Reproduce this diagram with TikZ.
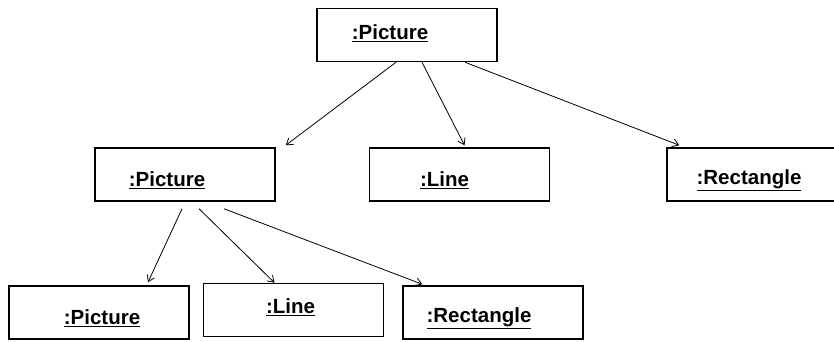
\documentclass[tikz,border=0pt]{standalone}
\usepackage{fontspec}
\setmainfont{Liberation Sans}
\usetikzlibrary{arrows.meta, positioning, calc}

\begin{document}
\begin{tikzpicture}[
        x=1pt, y=1pt,
        font=\fontsize{20.5}{24}\selectfont\bfseries,
        objbox/.style={draw, line width=1.5pt, minimum width=180pt, minimum height=53pt, inner sep=0pt},
        objname/.style={inner sep=0pt},
        link/.style={-{Straight Barb[length=6pt, width=8pt]}, line width=0.8pt}
    ]
        \clip (0,0) rectangle (834,-341);
        \fill[white] (0,0) rectangle (834,-341);

        % objects
        \node[objbox, label={[objname, xshift=-17pt, yshift=2pt]center:\underline{:Picture}}] (top) at (407,-35) {};
        \node[objbox, label={[objname, xshift=-18pt, yshift=-5.5pt]center:\underline{:Picture}}] (midpic) at (185,-174.5) {};
        \node[objbox, right=93pt of midpic, label={[objname, xshift=-15pt, yshift=-5.5pt]center:\underline{:Line}}] (midline) {};
        \node[objbox, right=116pt of midline, label={[objname, xshift=-8pt, yshift=-5.5pt]center:\underline{:Rectangle}}] (midrect) {};
        \node[objbox, label={[objname, xshift=3pt, yshift=-5.5pt]center:\underline{:Picture}}] (botpic) at (99,-312.5) {};
        \node[objbox, right=13pt of botpic, yshift=2.5pt, label={[objname, xshift=-3pt, yshift=3pt]center:\underline{:Line}}] (botline) {};
        \node[objbox, right=18pt of botline, yshift=-2.5pt, label={[objname, xshift=-14pt, yshift=-5.5pt]center:\underline{:Rectangle}}] (botrect) {};

        % links
        \draw[link] ($(top.south)+(-11,0)$) -- ($(midpic.north east)+(10,2)$);
        \draw[link] ($(top.south)+(15,0)$) -- ($(midline.north)+(5,2)$);
        \draw[link] ($(top.south)+(58,0)$) -- ($(midrect.north west)+(13,2)$);
        \draw[link] ($(midpic.south)+(-3,-7)$) -- ($(botpic.north)+(49,3)$);
        \draw[link] ($(midpic.south)+(14,-7)$) -- ($(botline.north)+(-19,0)$);
        \draw[link] ($(midpic.south)+(39,-7)$) -- ($(botrect.north west)+(20,1)$);
    \end{tikzpicture}
\end{document}
